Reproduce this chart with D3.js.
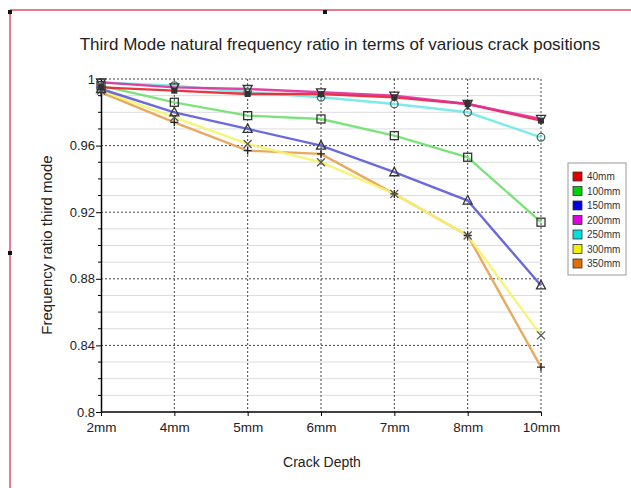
<!DOCTYPE html>
<html><head><meta charset="utf-8">
<script src="https://cdn.jsdelivr.net/npm/d3@7"></script>
<style>body{margin:0;background:#fff;}svg{display:block;font-family:"Liberation Sans",Arial,sans-serif;}</style>
</head><body><svg id="c" width="631" height="488"></svg>
<script>
const categories = ["2mm","4mm","5mm","6mm","7mm","8mm","10mm"];
const seriesNames = ["40mm","100mm","150mm","200mm","250mm","300mm","350mm"];
const seriesColors = ["#e8202a","#6ee06e","#5a5ad8","#e0309a","#70e8e8","#f4f46a","#e8a050"];
const legendColors = ["#e00000","#00d000","#0000e0","#e000e0","#00e0e0","#f0f000","#e07000"];
const markers = ["sq","box","tri","itri","circ","x","plus"];
const v40  = [0.995,0.993,0.991,0.991,0.989,0.985,0.975];
const v100 = [0.996,0.986,0.978,0.976,0.966,0.953,0.914];
const v150 = [0.994,0.980,0.970,0.960,0.944,0.927,0.876];
const v200 = [0.998,0.995,0.994,0.992,0.990,0.985,0.976];
const v250 = [0.998,0.996,0.992,0.989,0.985,0.980,0.965];
const v300 = [0.993,0.977,0.961,0.950,0.931,0.906,0.846];
const v350 = [0.992,0.974,0.957,0.955,0.931,0.906,0.827];
const seriesValues = [v40,v100,v150,v200,v250,v300,v350];
const yTicks = [0.8,0.84,0.88,0.92,0.96,1];
const yTickLabels = ["0.8","0.84","0.88","0.92","0.96","1"];

const svg = d3.select("#c");
// frame
svg.append("line").attr("x1",10).attr("y1",10).attr("x2",631).attr("y2",10).attr("stroke","#e0506a").attr("stroke-width",1.5);
svg.append("line").attr("x1",10).attr("y1",10).attr("x2",10).attr("y2",488).attr("stroke","#e0506a").attr("stroke-width",1.5);
[[10,12],[325,12],[10,253]].forEach(p=>svg.append("rect").attr("x",p[0]-2).attr("y",p[1]-2).attr("width",4).attr("height",4).attr("fill","#111"));

const L=101,R=541,T=79,B=412;
const x = d3.scalePoint().domain(categories).range([L,R]);
const y = d3.scaleLinear().domain([0.8,1]).range([B,T]);

// minor grid
const minor = d3.range(0.80,1.0001,0.01).filter(v=>Math.abs(Math.round(v*100)%4)!==0);
svg.append("g").selectAll("line").data(minor).join("line")
  .attr("x1",L).attr("x2",R).attr("y1",d=>y(d)).attr("y2",d=>y(d))
  .attr("stroke","#dcdcdc").attr("stroke-width",1);
// major grid
svg.append("g").selectAll("line").data(yTicks.filter(v=>v>0.8)).join("line")
  .attr("x1",L).attr("x2",R).attr("y1",d=>y(d)).attr("y2",d=>y(d))
  .attr("stroke","#444").attr("stroke-width",1).attr("stroke-dasharray","2,2");
svg.append("g").selectAll("line").data(categories.slice(1)).join("line")
  .attr("x1",d=>x(d)).attr("x2",d=>x(d)).attr("y1",T).attr("y2",B)
  .attr("stroke","#444").attr("stroke-width",1).attr("stroke-dasharray","2,2");

// axes
const yAxis = d3.axisLeft(y).tickValues(yTicks).tickFormat((d,i)=>yTickLabels[i]).tickSize(5).tickSizeOuter(0);
const gy = svg.append("g").attr("transform",`translate(${L},0)`).call(yAxis);
gy.selectAll("text").attr("font-size",13).attr("fill","#222").attr("dx",2);
gy.select(".domain").attr("stroke","#000").attr("stroke-width",1.5);
svg.append("g").selectAll("line").data(minor).join("line")
  .attr("x1",L-3).attr("x2",L).attr("y1",d=>y(d)).attr("y2",d=>y(d)).attr("stroke","#000");
const xAxis = d3.axisBottom(x).tickSize(4).tickSizeOuter(0);
const gx = svg.append("g").attr("transform",`translate(0,${B})`).call(xAxis);
gx.selectAll("text").attr("font-size",13.5).attr("fill","#222").attr("dy","0.95em");
gx.select(".domain").attr("stroke","#000").attr("stroke-width",1.5).attr("d",`M${L},0H${R}`);

// lines
const line = d3.line().x((d,i)=>x(categories[i])).y(d=>y(d));
const order=[6,5,2,1,4,0,3];
order.forEach(s=>{
  svg.append("path").datum(seriesValues[s]).attr("d",line).attr("fill","none")
    .attr("stroke",seriesColors[s]).attr("stroke-width",2.4).attr("stroke-opacity",0.9);
});
// markers
function drawMarker(g,type,cx,cy){
  const c="#333";
  if(type==="sq") g.append("rect").attr("x",cx-3).attr("y",cy-3).attr("width",6).attr("height",6).attr("fill","#333");
  else if(type==="box") g.append("rect").attr("x",cx-4).attr("y",cy-4).attr("width",8).attr("height",8).attr("fill","none").attr("stroke",c).attr("stroke-width",1.3);
  else if(type==="tri") g.append("path").attr("d",`M${cx},${cy-5}L${cx+4.5},${cy+3.5}L${cx-4.5},${cy+3.5}Z`).attr("fill","none").attr("stroke",c).attr("stroke-width",1.3);
  else if(type==="itri") g.append("path").attr("d",`M${cx},${cy+5}L${cx+4.5},${cy-3.5}L${cx-4.5},${cy-3.5}Z`).attr("fill","none").attr("stroke",c).attr("stroke-width",1.3);
  else if(type==="circ") g.append("circle").attr("cx",cx).attr("cy",cy).attr("r",3.8).attr("fill","none").attr("stroke","#4a6a6a").attr("stroke-width",1.3);
  else if(type==="x") g.append("path").attr("d",`M${cx-4},${cy-4}L${cx+4},${cy+4}M${cx-4},${cy+4}L${cx+4},${cy-4}`).attr("stroke","#555").attr("stroke-width",1.3);
  else if(type==="plus") g.append("path").attr("d",`M${cx-4},${cy}L${cx+4},${cy}M${cx},${cy-4}L${cx},${cy+4}`).attr("stroke","#222").attr("stroke-width",1.3);
}
order.forEach(s=>{
  const g=svg.append("g");
  seriesValues[s].forEach((v,i)=>drawMarker(g,markers[s],x(categories[i]),y(v)));
});

// title & labels
svg.append("text").attr("x",340).attr("y",50).attr("text-anchor","middle").attr("font-size",17).attr("fill","#222")
  .text("Third Mode natural frequency ratio in terms of various crack positions");
svg.append("text").attr("transform","translate(52,245) rotate(-90)").attr("text-anchor","middle").attr("font-size",15).attr("fill","#222")
  .text("Frequency ratio third mode");
svg.append("text").attr("x",322).attr("y",467).attr("text-anchor","middle").attr("font-size",14).attr("fill","#222").text("Crack Depth");

// legend
const lg=svg.append("g").attr("transform","translate(568,163)");
lg.append("rect").attr("width",58).attr("height",112).attr("fill","#fff").attr("stroke","#999");
seriesNames.forEach((n,i)=>{
  lg.append("rect").attr("x",5).attr("y",9+i*14.5).attr("width",9).attr("height",9).attr("fill",legendColors[i]).attr("stroke","#333").attr("stroke-width",0.8);
  lg.append("text").attr("x",19).attr("y",17+i*14.5).attr("font-size",10).attr("fill","#333").text(n);
});
</script></body></html>
